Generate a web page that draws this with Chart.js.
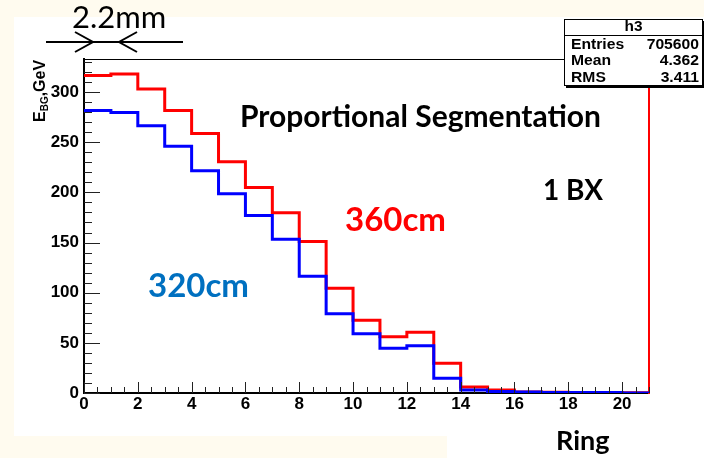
<!DOCTYPE html>
<html>
<head>
<meta charset="utf-8">
<script src="https://cdn.jsdelivr.net/npm/chart.js@4.4.0/dist/chart.umd.min.js"></script>
<style>
  html, body { margin: 0; padding: 0; background: #fffbef; overflow: hidden; }
  canvas { display: block; }
</style>
</head>
<body>
<canvas id="c" width="704" height="458"></canvas>
<script>
// Ring bin left edges (bins are one ring wide, 0..21)
const ringEdges = [0, 1, 2, 3, 4, 5, 6, 7, 8, 9, 10, 11, 12, 13, 14, 15, 16, 17, 18, 19, 20];
const ringMax = 21;

// Background energy per ring, GeV, 1 BX
const ebg360 = [316.6, 318, 303, 281.7, 258.8, 230.5, 204.9, 179.6, 151, 104.5, 72.5, 56, 60.6, 29.6, 6, 3, 1, 0.8, 0.5, 0.5, 0.3];
const ebg320 = [281.7, 279.7, 266.5, 246, 221.5, 198.6, 177, 153.4, 116.5, 79, 59, 44.6, 47.2, 14.7, 3, 1.5, 1, 0.5, 0.5, 0.5, 0];

// Axis tick labels
const xTickValues = [0, 2, 4, 6, 8, 10, 12, 14, 16, 18, 20];
const yTickValues = [0, 50, 100, 150, 200, 250, 300];
const yMax = 333;

// Stats box contents
const statsTitle = 'h3';
const statsRows = [['Entries', '705600'], ['Mean', '4.362'], ['RMS', '3.411']];

function histPoints(values) {
  const pts = ringEdges.map((x, i) => ({ x: x, y: values[i] }));
  pts.push({ x: ringMax, y: 0 });
  return pts;
}

const pageBackground = {
  id: 'pageBackground',
  beforeDraw(chart) {
    const ctx = chart.ctx;
    ctx.save();
    ctx.fillStyle = '#fffbef';
    ctx.fillRect(0, 0, chart.width, chart.height);
    ctx.fillStyle = '#ffffff';
    ctx.fillRect(14, 17, chart.width - 14, chart.height - 17);
    ctx.fillStyle = '#fffbef';
    ctx.fillRect(0, 436, 447, chart.height - 436);
    ctx.restore();
  }
};

// Inward tick marks on the bottom and left axes
const innerTicks = {
  id: 'innerTicks',
  afterDatasetsDraw(chart) {
    const ctx = chart.ctx;
    const xs = chart.scales.x, ys = chart.scales.y;
    const a = chart.chartArea;
    ctx.save();
    ctx.strokeStyle = '#222';
    ctx.lineWidth = 1;
    ctx.beginPath();
    for (let v = 0; v <= ringMax + 1e-9; v += 0.5) {
      const px = Math.round(xs.getPixelForValue(v)) + 0.5;
      const len = (Math.abs(v % 2) < 1e-9) ? 11 : 6;
      ctx.moveTo(px, a.bottom);
      ctx.lineTo(px, a.bottom - len);
    }
    for (let v = 0; v <= yMax; v += 10) {
      const py = Math.round(ys.getPixelForValue(v)) + 0.5;
      const len = (v % 50 === 0) ? 16 : 8;
      ctx.moveTo(a.left, py);
      ctx.lineTo(a.left + len, py);
    }
    ctx.stroke();
    ctx.restore();
  }
};

const annotations = {
  id: 'annotations',
  afterDraw(chart) {
    const ctx = chart.ctx;
    ctx.save();

    // y-axis title with subscript
    ctx.translate(45, 122);
    ctx.rotate(-Math.PI / 2);
    ctx.fillStyle = '#000';
    ctx.textBaseline = 'alphabetic';
    ctx.textAlign = 'left';
    ctx.font = 'bold 16px "Liberation Sans", Arial, sans-serif';
    ctx.fillText('E', 0, 0);
    let w = ctx.measureText('E').width;
    ctx.font = 'bold 10px "Liberation Sans", Arial, sans-serif';
    ctx.fillText('BG', w, 3);
    w += ctx.measureText('BG').width;
    ctx.font = 'bold 16px "Liberation Sans", Arial, sans-serif';
    ctx.fillText(',GeV', w, 0);
    ctx.setTransform(1, 0, 0, 1, 0, 0);

    // panel texts
    ctx.textBaseline = 'alphabetic';
    ctx.textAlign = 'left';
    ctx.fillStyle = '#000';
    ctx.font = 'bold 30px Lato, "Open Sans", sans-serif';
    ctx.fillText('Proportional Segmentation', 240, 127);
    ctx.font = 'bold 28px Lato, "Open Sans", sans-serif';
    ctx.fillText('1 BX', 543, 200);
    ctx.fillStyle = '#ff0000';
    ctx.font = 'bold 33px Lato, "Open Sans", sans-serif';
    ctx.fillText('360cm', 345, 231);
    ctx.fillStyle = '#0070c0';
    ctx.fillText('320cm', 148, 297);
    ctx.fillStyle = '#000';
    ctx.font = 'bold 27px Lato, "Open Sans", sans-serif';
    ctx.fillText('Ring', 556, 450);
    ctx.font = '31px Lato, "Open Sans", sans-serif';
    ctx.fillText('2.2mm', 72, 28);

    // width marker with inward arrows
    ctx.strokeStyle = '#000';
    ctx.lineWidth = 2;
    ctx.beginPath();
    ctx.moveTo(46, 42); ctx.lineTo(183, 42);
    ctx.moveTo(75, 32); ctx.lineTo(93, 42); ctx.lineTo(75, 52);
    ctx.moveTo(137, 32); ctx.lineTo(119, 42); ctx.lineTo(137, 52);
    ctx.stroke();

    // stats box
    const bx = 564, by = 19, bw = 139, bh = 67;
    ctx.fillStyle = '#000';
    ctx.fillRect(bx + 2, by + 2, bw, bh);
    ctx.fillStyle = '#fff';
    ctx.fillRect(bx, by, bw, bh);
    ctx.strokeStyle = '#000';
    ctx.lineWidth = 1;
    ctx.strokeRect(bx + 0.5, by + 0.5, bw - 1, bh - 1);
    ctx.beginPath();
    ctx.moveTo(bx, 35.5); ctx.lineTo(bx + bw, 35.5);
    ctx.stroke();
    ctx.fillStyle = '#000';
    ctx.textBaseline = 'middle';
    ctx.font = 'bold 14px "Liberation Sans", Arial, sans-serif';
    ctx.textAlign = 'center';
    ctx.save();
    ctx.translate(bx + bw / 2, 27.5);
    ctx.scale(1.1, 1);
    ctx.fillText(statsTitle, 0, 0);
    ctx.restore();
    const rowY = [45, 61.5, 78];
    statsRows.forEach((r, i) => {
      ctx.save();
      ctx.translate(bx + 7, rowY[i]);
      ctx.scale(1.12, 1);
      ctx.textAlign = 'left';
      ctx.fillText(r[0], 0, 0);
      ctx.restore();
      ctx.save();
      ctx.translate(bx + bw - 4, rowY[i]);
      ctx.scale(1.12, 1);
      ctx.textAlign = 'right';
      ctx.fillText(r[1], 0, 0);
      ctx.restore();
    });
    ctx.restore();
  }
};

const tickFont = { family: '"Liberation Sans", Arial, sans-serif', size: 17, weight: 'bold' };

new Chart(document.getElementById('c'), {
  type: 'line',
  data: {
    datasets: [
      {
        label: '320cm',
        data: histPoints(ebg320),
        borderColor: '#0000ff',
        borderWidth: 3,
        pointRadius: 0,
        stepped: 'before',
        fill: false
      },
      {
        label: '360cm',
        data: histPoints(ebg360),
        borderColor: '#ff0000',
        borderWidth: 3,
        pointRadius: 0,
        stepped: 'before',
        fill: false
      }
    ]
  },
  options: {
    responsive: false,
    devicePixelRatio: 1,
    animation: false,
    events: [],
    layout: { padding: 0 },
    plugins: { legend: { display: false }, tooltip: { enabled: false }, title: { display: false } },
    scales: {
      x: {
        type: 'linear',
        position: 'bottom',
        min: 0,
        max: ringMax,
        afterBuildTicks: s => { s.ticks = xTickValues.map(v => ({ value: v })); },
        afterFit: s => { s.height = 65; },
        ticks: { color: '#000', font: tickFont, padding: 1, maxRotation: 0, autoSkip: false },
        grid: { display: true, drawOnChartArea: false, drawTicks: false },
        border: { display: true, color: '#000', width: 2 }
      },
      x2: {
        type: 'linear',
        position: 'top',
        min: 0,
        max: ringMax,
        afterFit: s => { s.height = 59; },
        ticks: { display: false },
        grid: { display: true, drawOnChartArea: false, drawTicks: false },
        border: { display: true, color: '#000', width: 1 }
      },
      y: {
        type: 'linear',
        position: 'left',
        min: 0,
        max: yMax,
        afterBuildTicks: s => { s.ticks = yTickValues.map(v => ({ value: v })); },
        afterFit: s => { s.width = 84; },
        ticks: { color: '#000', font: tickFont, padding: 5 },
        grid: { display: true, drawOnChartArea: false, drawTicks: false },
        border: { display: true, color: '#000', width: 2 }
      },
      y2: {
        type: 'linear',
        position: 'right',
        min: 0,
        max: yMax,
        afterFit: s => { s.width = 55; },
        ticks: { display: false },
        grid: { display: true, drawOnChartArea: false, drawTicks: false },
        border: { display: true, color: '#ff0000', width: 2 }
      }
    }
  },
  plugins: [pageBackground, innerTicks, annotations]
});
</script>
</body>
</html>
